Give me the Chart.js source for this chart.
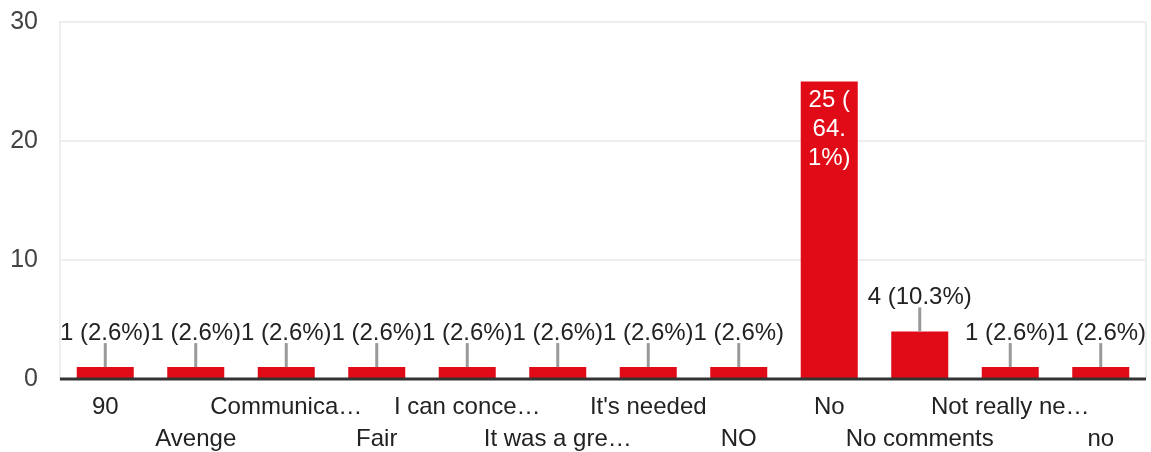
<!DOCTYPE html>
<html>
<head>
<meta charset="utf-8">
<script src="https://cdn.jsdelivr.net/npm/chart.js@4/dist/chart.umd.min.js"></script>
<style>
  html, body { margin: 0; padding: 0; background: #fff; }
  #wrap { width: 1151px; height: 452px; position: relative; }
</style>
</head>
<body>
<div id="wrap"><canvas id="c"></canvas></div>
<script>
const categories = ["90", "Avenge", "Communica\u2026", "Fair", "I can conce\u2026", "It was a gre\u2026", "It's needed", "NO", "No", "No comments", "Not really ne\u2026", "no"];
const counts = [1, 1, 1, 1, 1, 1, 1, 1, 25, 4, 1, 1];
const percentLabels = ["2.6%", "2.6%", "2.6%", "2.6%", "2.6%", "2.6%", "2.6%", "2.6%", "64.1%", "10.3%", "2.6%", "2.6%"];
const yTicks = [0, 10, 20, 30];

const FONT = '"Liberation Sans", Arial, sans-serif';
const RED = '#e10b17';

const annotate = {
  id: 'annotate',
  afterDatasetsDraw(chart) {
    const ctx = chart.ctx;
    const area = chart.chartArea;
    ctx.save();
    ctx.strokeStyle = '#eeeeee';
    ctx.lineWidth = 2;
    ctx.beginPath();
    ctx.moveTo(area.right, area.top);
    ctx.lineTo(area.right, area.bottom);
    ctx.stroke();
    ctx.strokeStyle = '#333333';
    ctx.lineWidth = 3;
    ctx.beginPath();
    ctx.moveTo(area.left, area.bottom);
    ctx.lineTo(area.right, area.bottom);
    ctx.stroke();

    const meta = chart.getDatasetMeta(0);
    meta.data.forEach((bar, i) => {
      const text = counts[i] + ' (' + percentLabels[i] + ')';
      const h = bar.base - bar.y;
      ctx.font = '24px ' + FONT;
      ctx.textAlign = 'center';
      ctx.textBaseline = 'middle';
      if (h > 80) {
        const tokens = text.match(/[^ (.]*[ (.]?/g).filter(t => t.length);
        const maxW = bar.width - 8;
        const lines = [];
        let cur = '';
        tokens.forEach(t => {
          if (cur && ctx.measureText((cur + t).trim()).width > maxW) {
            lines.push(cur.trim());
            cur = t;
          } else cur += t;
        });
        if (cur) lines.push(cur.trim());
        ctx.fillStyle = '#ffffff';
        lines.forEach((l, k) => ctx.fillText(l, bar.x, bar.y + 19 + k * 29));
      } else {
        ctx.strokeStyle = '#999999';
        ctx.lineWidth = 3;
        ctx.beginPath();
        ctx.moveTo(bar.x, bar.y);
        ctx.lineTo(bar.x, bar.y - 24);
        ctx.stroke();
        ctx.fillStyle = '#222222';
        ctx.fillText(text, bar.x, bar.y - 34);
      }
    });
    ctx.restore();
  }
};

new Chart(document.getElementById('c'), {
  type: 'bar',
  data: {
    labels: categories,
    datasets: [{
      data: counts,
      backgroundColor: RED,
      borderWidth: 0,
      categoryPercentage: 1,
      barPercentage: 0.63
    }]
  },
  options: {
    responsive: true,
    maintainAspectRatio: false,
    animation: false,
    layout: { padding: { top: 22, right: 5, left: 0, bottom: 0 } },
    plugins: { legend: { display: false }, tooltip: { enabled: false } },
    scales: {
      x: {
        grid: { display: false, drawTicks: false },
        border: { display: false },
        ticks: {
          autoSkip: false,
          maxRotation: 0,
          minRotation: 0,
          padding: 12,
          color: '#222222',
          font: { family: FONT, size: 24, lineHeight: 32 / 24 },
          callback: function(v, i) {
            return i % 2 === 0 ? categories[i] : ['', categories[i]];
          }
        },
        afterFit(s) { s.height = 73; s.paddingLeft = 0; s.paddingRight = 0; }
      },
      y: {
        min: 0,
        max: 30,
        afterBuildTicks(s) { s.ticks = yTicks.map(v => ({ value: v })); },
        grid: { color: '#eeeeee', lineWidth: 2, drawTicks: false },
        border: { display: true, color: '#eeeeee', width: 2 },
        ticks: {
          padding: 22,
          color: '#444444',
          font: { family: FONT, size: 25 }
        },
        afterFit(s) { s.width = 60; s.paddingTop = 0; s.paddingBottom = 0; }
      }
    }
  },
  plugins: [annotate]
});
</script>
</body>
</html>
